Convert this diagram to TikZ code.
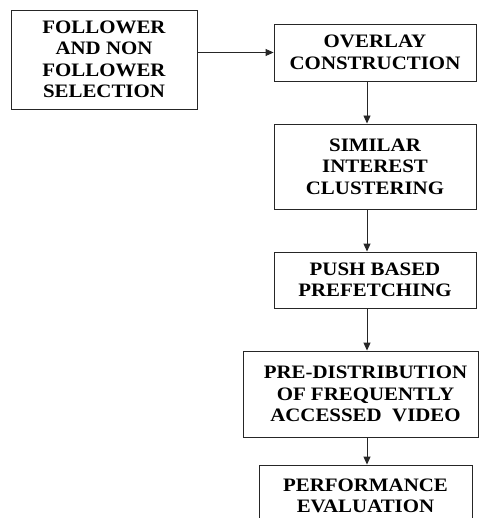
\documentclass[tikz,border=0pt]{standalone}
\usepackage{fontspec}
\setmainfont[FakeStretch=1.1]{Liberation Serif}
\usetikzlibrary{arrows.meta}
\tikzset{
  stage/.style={draw=black!85, line width=0.9pt, inner sep=0pt, align=center,
    font=\fontsize{19}{21.4}\selectfont\bfseries},
  arr/.style={draw=black!85, line width=0.9pt, -{Triangle[length=8pt,width=7pt]}}
}
\begin{document}
\begin{tikzpicture}[x=1pt,y=1pt]
\useasboundingbox (0,0) rectangle (479,-518);
\clip (0,0) rectangle (479,-518);
\fill[white] (0,0) rectangle (479,-518);
\node[stage, minimum width=186, minimum height=99] (b1) at (104,-59.5)
  {FOLLOWER\\AND NON\\FOLLOWER\\SELECTION};
\node[stage, minimum width=202, minimum height=57] (b2) at (375,-52.5)
  {OVERLAY\\CONSTRUCTION};
\node[stage, minimum width=202, minimum height=85] (b3) at (375,-166.5)
  {SIMILAR\\INTEREST\\CLUSTERING};
\node[stage, minimum width=202, minimum height=56] (b4) at (375,-280)
  {PUSH BASED\\PREFETCHING};
\node[stage, minimum width=235, minimum height=86] (b5) at (360.5,-394)
  {\hspace*{10pt}PRE-DISTRIBUTION\\\hspace*{10pt}OF FREQUENTLY\\\hspace*{10pt}ACCESSED\ \ VIDEO};
\node[stage, minimum width=213, minimum height=62] (b6) at (365.5,-496)
  {PERFORMANCE\\EVALUATION};
\coordinate (col) at (367,0);
\draw[arr] (b1.east |- b2.west) -- (b2.west);
\draw[arr] (b2.south -| col) -- (b3.north -| col);
\draw[arr] (b3.south -| col) -- (b4.north -| col);
\draw[arr] (b4.south -| col) -- (b5.north -| col);
\draw[arr] (b5.south -| col) -- (b6.north -| col);
\end{tikzpicture}
\end{document}
